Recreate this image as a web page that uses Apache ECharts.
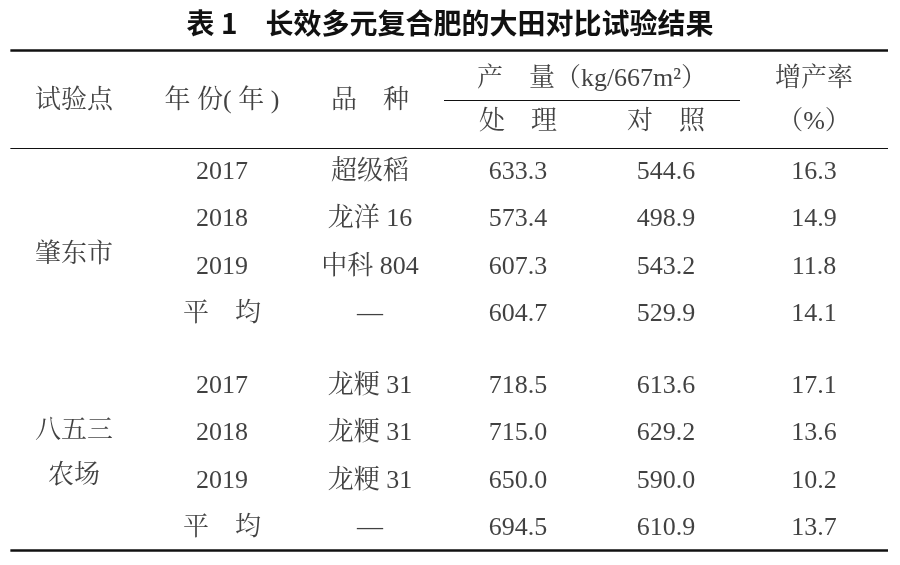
<!DOCTYPE html><html><head><meta charset="utf-8"><script src="https://cdn.jsdelivr.net/npm/echarts@6/dist/echarts.min.js"></script>
<style>html,body{margin:0;background:#fff}#c{width:900px;height:565px}</style></head><body><div id="c"></div><script>
const title = '表 1　长效多元复合肥的大田对比试验结果';
const years = ['2017','2018','2019','平　均','2017','2018','2019','平　均'];
const varieties = ['超级稻','龙洋 16','中科 804','—','龙粳 31','龙粳 31','龙粳 31','—'];
const treated = ['633.3','573.4','607.3','604.7','718.5','715.0','650.0','694.5'];
const control = ['544.6','498.9','543.2','529.9','613.6','629.2','590.0','610.9'];
const increase = ['16.3','14.9','11.8','14.1','17.1','13.6','10.2','13.7'];
const rowIdx = [0,1,2,3,4.5,5.5,6.5,7.5];
const sites = [['肇东市',1.75],['八五三',5.45],['农场',6.4]];
const headers = [['试验点',0,-1.5],['年 份( 年 )',1,-1.5],['品　种',2,-1.5],['产　量（kg/667m²）',3.5,-1.95],['处　理',3,-1.05],['对　照',4,-1.05],['增产率',5,-1.95],['（%）',5,-1.05]];
const cells = [];
headers.forEach(h=>cells.push([h[1]+0.5,h[2],h[0]]));
sites.forEach(s=>cells.push([0.5,s[1],s[0]]));
rowIdx.forEach((r,i)=>{
  cells.push([1.5,r,years[i]]);cells.push([2.5,r,varieties[i]]);
  cells.push([3.5,r,treated[i]]);cells.push([4.5,r,control[i]]);cells.push([5.5,r,increase[i]]);
});
const ch = echarts.init(document.getElementById('c'));
ch.setOption({
  title:{text:title,left:'center',top:4,textStyle:{fontFamily:'Noto Sans CJK SC',fontSize:28,fontWeight:'bold',color:'#111'}},
  grid:{left:0,right:12,top:0,bottom:0},
  xAxis:{type:'value',min:0,max:6,show:false},
  yAxis:{type:'value',min:-3.62,max:8.27,inverse:true,show:false},
  series:[{type:'scatter',symbolSize:0,data:cells,
    label:{show:true,position:'inside',formatter:p=>p.data[2],fontSize:26,color:'#111',fontFamily:'Liberation Serif, Noto Serif CJK SC, Noto Sans CJK SC'},
    markLine:{symbol:'none',silent:true,label:{show:false},lineStyle:{type:'solid',color:'#111'},
      data:[
        [{coord:[0.07,-2.57],lineStyle:{width:2.5,type:'solid',color:'#111'}},{coord:[6,-2.57]}],
        [{coord:[3,-1.5],lineStyle:{width:1.2,type:'solid',color:'#111'}},{coord:[5,-1.5]}],
        [{coord:[0.07,-0.5],lineStyle:{width:1.2,type:'solid',color:'#111'}},{coord:[6,-0.5]}],
        [{coord:[0.07,7.96],lineStyle:{width:2.5,type:'solid',color:'#111'}},{coord:[6,7.96]}]
      ]}
  }]
});
</script></body></html>
